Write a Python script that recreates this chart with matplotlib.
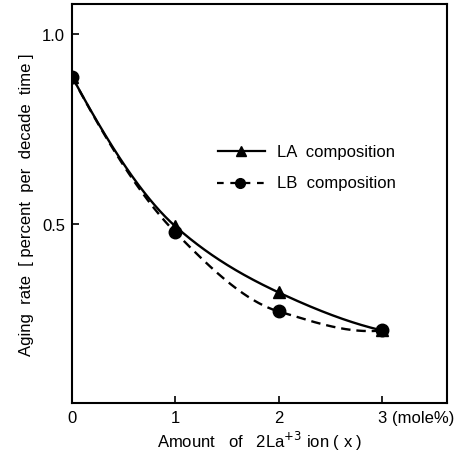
import matplotlib.pyplot as plt
import numpy as np

plt.rcParams['font.family'] = ['Liberation Sans', 'DejaVu Sans']

# La+3 amount (mole %)
x = [0, 1, 2, 3]
la_rate = [0.889, 0.495, 0.321, 0.221]
lb_rate = [0.889, 0.479, 0.271, 0.221]

x_ticks = [0, 1, 2, 3]
x_ticklabels = ["0", "1", "2", "3"]
y_ticks = [0.5, 1.0]
y_ticklabels = ["0.5", "1.0"]


def smooth(xk, yk, xs):
    # monotone cubic (Fritsch-Carlson) curve through the points
    xk = np.asarray(xk, float)
    yk = np.asarray(yk, float)
    h = np.diff(xk)
    d = np.diff(yk) / h
    m = np.zeros_like(yk)
    for k in range(1, len(xk) - 1):
        if d[k - 1] * d[k] > 0:
            w1 = 2 * h[k] + h[k - 1]
            w2 = h[k] + 2 * h[k - 1]
            m[k] = (w1 + w2) / (w1 / d[k - 1] + w2 / d[k])
    m[0] = ((2 * h[0] + h[1]) * d[0] - h[0] * d[1]) / (h[0] + h[1])
    m[-1] = ((2 * h[-1] + h[-2]) * d[-1] - h[-1] * d[-2]) / (h[-1] + h[-2])
    i = np.clip(np.searchsorted(xk, xs) - 1, 0, len(xk) - 2)
    t = (xs - xk[i]) / h[i]
    h00 = 2 * t**3 - 3 * t**2 + 1
    h10 = t**3 - 2 * t**2 + t
    h01 = -2 * t**3 + 3 * t**2
    h11 = t**3 - t**2
    return h00 * yk[i] + h10 * h[i] * m[i] + h01 * yk[i + 1] + h11 * h[i] * m[i + 1]


fig = plt.figure(figsize=(4.63, 4.52), dpi=100)
ax = fig.add_axes([72 / 463, 48 / 452, 375 / 463, 399 / 452])

xs = np.linspace(0, 3, 300)
ax.plot(xs, smooth(x, la_rate, xs), color="black", lw=1.7)
ax.plot(xs, smooth(x, lb_rate, xs), color="black", lw=1.7, ls=(0, (4, 2.5)))
ax.plot(x, la_rate, "^", color="black", ms=9)
ax.plot(x, lb_rate, "o", color="black", ms=9)

# legend drawn by hand to keep the short line-marker-line look
ax.plot([1.41, 1.865], [0.692, 0.692], color="black", lw=1.6)
ax.plot([1.64], [0.692], "^", color="black", ms=7)
ax.plot([1.40, 1.855], [0.61, 0.61], color="black", lw=1.6, ls=(0, (3, 3)))
ax.plot([1.63], [0.61], "o", color="black", ms=7)
ax.text(1.98, 0.692, "LA  composition", fontsize=12, va="center")
ax.text(1.98, 0.61, "LB  composition", fontsize=12, va="center")

ax.set_xlim(0, 3.63)
ax.set_ylim(0.03, 1.08)
ax.set_xticks(x_ticks)
ax.set_xticklabels(x_ticklabels, fontsize=12)
ax.set_yticks(y_ticks)
ax.set_yticklabels(y_ticklabels, fontsize=12)
ax.tick_params(direction="in", length=5, width=1.2, pad=5)
for s in ax.spines.values():
    s.set_linewidth(1.5)

ax.text(3.1, -0.0175, "(mole%)", fontsize=12, va="top", transform=ax.get_xaxis_transform())
ax.set_xlabel("Amount   of   2La$^{+3}$ ion ( x )", fontsize=12, labelpad=3)
ax.set_ylabel("Aging  rate  [ percent  per  decade  time ]", fontsize=12, labelpad=6)

fig.savefig("out.png", dpi=100)
